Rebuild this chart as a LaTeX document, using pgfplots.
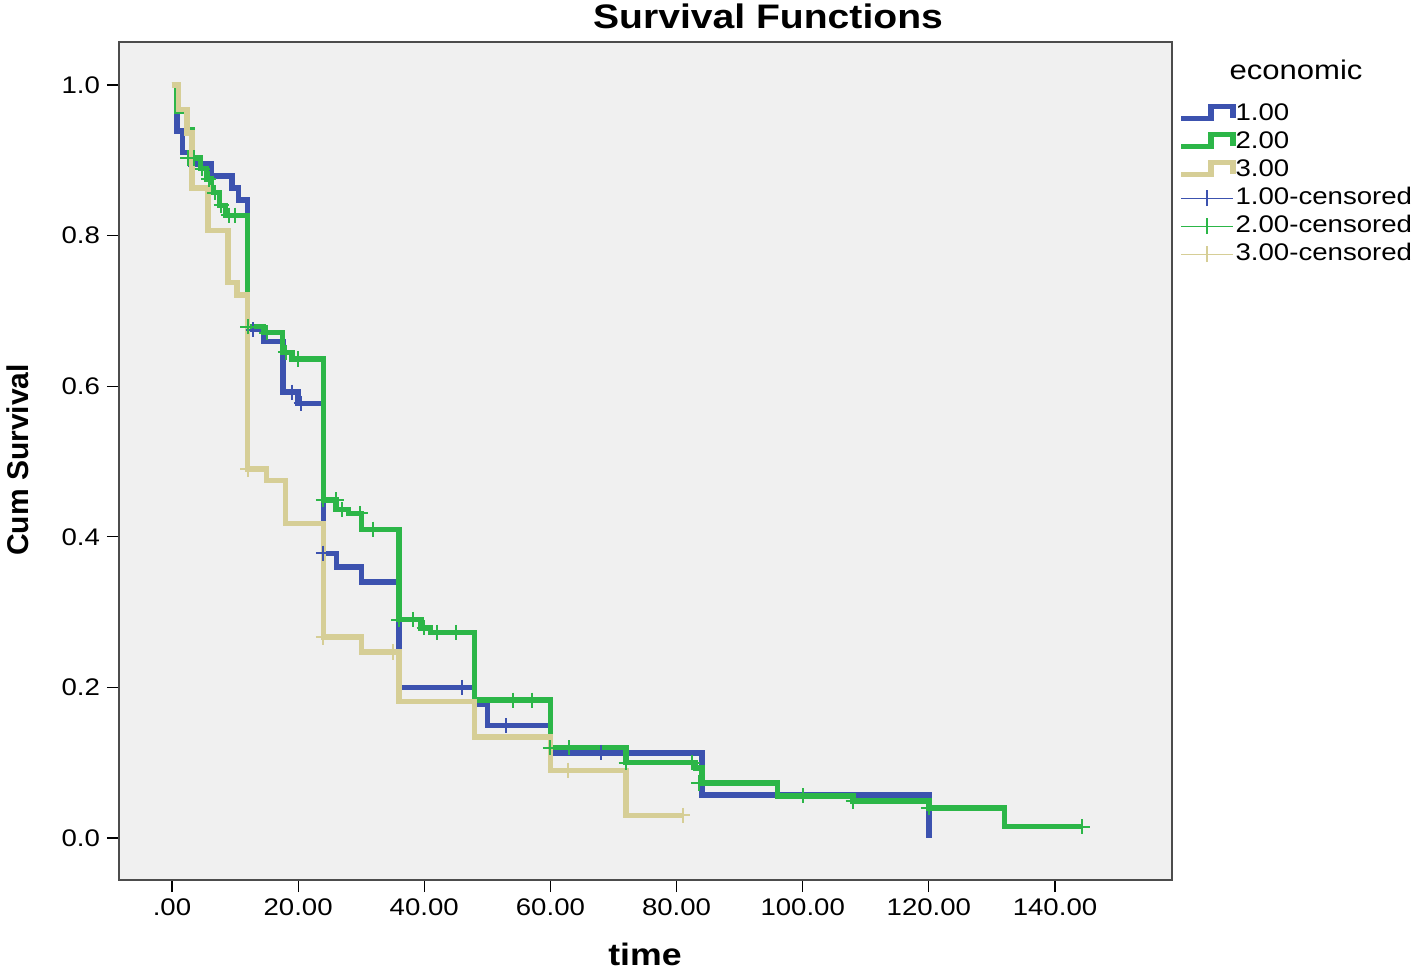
\documentclass[border=0pt]{standalone}
\usepackage{fontspec}
\setmainfont{Liberation Sans}[FakeStretch=1.15]
\newfontfamily\nostretch{Liberation Sans}
\usepackage{pgfplots}
\pgfplotsset{compat=1.18}
\definecolor{cblue}{RGB}{60,82,175}
\definecolor{cgreen}{RGB}{44,182,72}
\definecolor{ctan}{RGB}{214,206,150}
\definecolor{bgc}{RGB}{240,240,240}
\pgfplotsset{
  steplegend/.style={legend image code/.code={\draw[##1] (0pt,-2pt) -- (15pt,-2pt) -- (15pt,4pt) -- (26pt,4pt) -- (26pt,-2pt);}},
  censlegend/.style={legend image code/.code={\draw[##1] (0pt,0pt) -- (26pt,0pt); \draw[##1] (13pt,-4pt) -- (13pt,4pt);}},
}
\begin{document}
\begin{tikzpicture}[x=1pt,y=1pt]
\useasboundingbox (-59.5,-45) rectangle (649.5,440);
\begin{axis}[
  at={(0,0)}, anchor=south west,
  scale only axis, width=526.5pt, height=419pt,
  xmin=-8.4, xmax=158.55, ymin=-0.0558, ymax=1.057,
  axis background/.style={fill=bgc},
  axis line style={draw=black!70, line width=0.8pt},
  xtick={0,20,40,60,80,100,120,140},
  xticklabels={.00,20.00,40.00,60.00,80.00,100.00,120.00,140.00},
  ytick={0,0.2,0.4,0.6,0.8,1},
  yticklabels={0.0,0.2,0.4,0.6,0.8,1.0},
  xtick pos=lower, ytick pos=left,
  tick align=outside, major tick length=6pt,
  tick style={black, line width=0.6pt},
  ticklabel style={font=\fontsize{12}{14}\selectfont},
  legend cell align=left,
  legend style={at={(rel axis cs:1.0057,0.931)}, anchor=north west, draw=none, fill=none,
    font=\fontsize{12}{14}\selectfont, row sep=0pt, inner sep=0pt,
    nodes={inner sep=0pt, text height=10pt, text depth=4pt}},
  stepline/.style={const plot, line width=2.7pt, line join=miter, line cap=butt},
  cens/.style={only marks, mark=+, mark size=3.8pt, line width=1pt},
]
% Step curves
\addplot[stepline, cblue, forget plot] coordinates {
(0,1.0) (0.8,0.939) (1.7,0.91) (3.0,0.895) (6.3,0.879) (9.5,0.863) (10.5,0.847)
(12,0.675) (14.5,0.659) (17.6,0.592) (20,0.577) (24,0.378) (26.1,0.36) (30,0.34)
(36,0.2) (48,0.177) (50,0.149) (60,0.113) (84,0.057) (120,0.0)};
\addplot[stepline, cgreen, forget plot] coordinates {
(0,1.0) (0.7,0.965) (2.5,0.94) (3.3,0.903) (4.5,0.889) (5.5,0.875) (6.2,0.857)
(7.5,0.84) (8.5,0.827) (12,0.679) (14.5,0.671) (17.5,0.645) (19,0.636) (24,0.449)
(26,0.436) (28,0.431) (30,0.41) (36,0.29) (39.5,0.279) (41,0.273) (48,0.183)
(60,0.12) (72,0.1) (83,0.093) (84,0.073) (96,0.056) (108,0.049) (120,0.04)
(132,0.015) (144.3,0.015)};
\addplot[stepline, ctan, forget plot] coordinates {
(0,1.0) (1.0,0.967) (2.4,0.936) (3.2,0.863) (5.7,0.807) (8.9,0.738) (10.3,0.721)
(12,0.49) (15,0.475) (18,0.418) (24,0.267) (30,0.247) (36,0.181) (48,0.134)
(60,0.09) (72,0.03) (81,0.03)};
% Censored marks
\addplot[cens, cblue, forget plot] coordinates {
(12.9,0.675) (19,0.592) (20.5,0.577) (24,0.378) (46,0.2) (53,0.149) (68,0.113)};
\addplot[cens, cgreen, forget plot] coordinates {
(2.5,0.903) (3.5,0.903) (4.8,0.889) (5.8,0.875) (6.8,0.857) (7.8,0.84) (9,0.827) (10,0.827)
(12,0.679) (15,0.671) (18,0.645) (20,0.636) (24,0.449) (26,0.449) (27,0.436)
(29.8,0.431) (31.8,0.41) (36,0.29) (38.2,0.29) (40,0.279) (42,0.273) (45,0.273)
(54,0.183) (57,0.183) (60,0.12) (63,0.12) (72,0.1) (82.5,0.1) (83.5,0.073)
(100,0.056) (108,0.049) (120,0.04) (144.3,0.015)};
\addplot[cens, ctan, forget plot] coordinates {
(12,0.49) (24,0.267) (35,0.247) (62.8,0.09) (81,0.03)};
% Legend
\addlegendimage{cblue, line width=2.6pt, line join=miter, steplegend}
\addlegendentry{1.00}
\addlegendimage{cgreen, line width=2.6pt, line join=miter, steplegend}
\addlegendentry{2.00}
\addlegendimage{ctan, line width=2.6pt, line join=miter, steplegend}
\addlegendentry{3.00}
\addlegendimage{cblue, line width=0.7pt, censlegend}
\addlegendentry{1.00-censored}
\addlegendimage{cgreen, line width=0.7pt, censlegend}
\addlegendentry{2.00-censored}
\addlegendimage{ctan, line width=0.7pt, censlegend}
\addlegendentry{3.00-censored}
\end{axis}
\node[anchor=base, font=\bfseries\fontsize{17}{20}\selectfont] at (324.5,425.5) {Survival Functions};
\node[anchor=base, font=\fontsize{13.5}{16}\selectfont] at (588.5,400) {economic};
\node[anchor=base, font=\bfseries\fontsize{15.5}{18}\selectfont] at (263,-42.5) {time};
\node[rotate=90, font=\nostretch\bfseries\fontsize{15}{18}\selectfont] at (-50.5,210) {Cum Survival};
\end{tikzpicture}
\end{document}
